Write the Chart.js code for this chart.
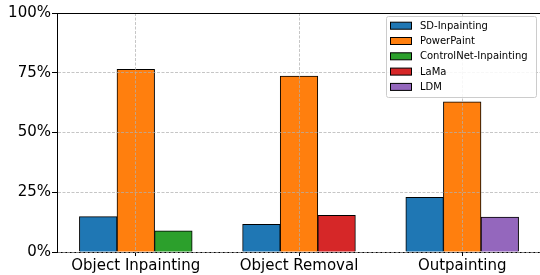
<!DOCTYPE html>
<html>
<head>
<meta charset="utf-8">
<script src="https://cdn.jsdelivr.net/npm/chart.js@4"></script>
<style>
  html, body { margin: 0; padding: 0; background: #fff; overflow: hidden; }
</style>
</head>
<body>
<canvas id="myChart" width="542" height="275"></canvas>
<script>
// categories and series (percent)
var categories = ["Object Inpainting", "Object Removal", "Outpainting"];
var seriesNames = ["SD-Inpainting", "PowerPaint", "ControlNet-Inpainting", "LaMa", "LDM"];
var sdInpainting = [14.8, 11.6, 22.9];
var powerPaint = [76.4, 73.6, 62.8];
var controlNet = [8.9, null, null];
var lama = [null, 15.3, null];
var ldm = [null, null, 14.6];
var yTicks = [0, 25, 50, 75, 100];

var colors = ["#1f77b4", "#ff7f0e", "#2ca02c", "#d62728", "#9467bd"];
var allValues = [sdInpainting, powerPaint, controlNet, lama, ldm];

var FONT = "'DejaVu Sans', sans-serif";

function toPoints(vals) {
  return vals.map(function (v, i) { return { x: i, y: v }; });
}

var datasets = seriesNames.map(function (name, k) {
  return {
    label: name,
    data: toPoints(allValues[k]),
    backgroundColor: colors[k],
    borderColor: "#000",
    borderWidth: 1,
    barThickness: 37.6
  };
});

// top/right spines like matplotlib
var frame = {
  id: "frame",
  afterDraw: function (chart) {
    var a = chart.chartArea, ctx = chart.ctx;
    ctx.save();
    ctx.strokeStyle = "#000";
    ctx.lineWidth = 1;
    ctx.beginPath();
    ctx.moveTo(a.left, a.top + 0.5);
    ctx.lineTo(a.right, a.top + 0.5);
    ctx.lineTo(a.right - 0.5, a.bottom);
    ctx.stroke();
    ctx.restore();
  }
};

// legend box inside the plot, upper right
var legendBox = {
  id: "legendBox",
  afterDraw: function (chart) {
    var ctx = chart.ctx;
    var x0 = 386.5, y0 = 16, w = 150, h = 81;
    ctx.save();
    ctx.fillStyle = "rgba(255,255,255,0.85)";
    ctx.strokeStyle = "#cccccc";
    ctx.lineWidth = 1;
    ctx.beginPath();
    ctx.roundRect(x0, y0 + 0.5, w, h, 2);
    ctx.fill();
    ctx.stroke();
    ctx.font = "10px " + FONT;
    ctx.textBaseline = "middle";
    chart.data.datasets.forEach(function (ds, i) {
      var cy = 25.7 + i * 15.3;
      ctx.fillStyle = ds.backgroundColor;
      ctx.fillRect(390.5, cy - 3.5, 21, 7);
      ctx.strokeStyle = "#000";
      ctx.strokeRect(390.5, cy - 3.5, 21, 7);
      ctx.fillStyle = "#000";
      ctx.fillText(ds.label, 420, cy + 0.5);
    });
    ctx.restore();
  }
};

var ctx = document.getElementById("myChart");
var chart = new Chart(ctx, {
  type: "bar",
  data: { datasets: datasets },
  plugins: [frame, legendBox],
  options: {
    responsive: false,
    animation: false,
    skipNull: true,
    layout: { padding: { top: 13, right: 0, left: 0, bottom: 0 } },
    plugins: {
      legend: { display: false },
      tooltip: { enabled: false }
    },
    scales: {
      x: {
        type: "linear",
        offset: false,
        min: -0.4828,
        max: 2.4889,
        afterBuildTicks: function (s) {
          s.ticks = categories.map(function (c, i) { return { value: i }; });
        },
        afterFit: function (s) { s.height = 23; },
        ticks: {
          callback: function (v) { return categories[v]; },
          color: "#000",
          font: { family: FONT, size: 15 },
          padding: 1,
          maxRotation: 0,
          autoSkip: false
        },
        grid: {
          offset: false,
          color: "rgba(176,176,176,0.9)",
          lineWidth: 0.8,
          tickLength: 4,
          tickColor: "#000",
          tickWidth: 1,
          tickBorderDash: [],
          z: 1
        },
        border: { display: true, color: "#000", width: 1, dash: [3, 1.5], z: 1 }
      },
      y: {
        min: 0,
        max: 100,
        afterBuildTicks: function (s) {
          s.ticks = yTicks.map(function (v) { return { value: v }; });
        },
        afterFit: function (s) { s.width = 57; },
        ticks: {
          callback: function (v) { return v + "%"; },
          color: "#000",
          font: { family: FONT, size: 15 },
          padding: 1
        },
        grid: {
          color: "rgba(176,176,176,0.9)",
          lineWidth: 0.8,
          tickLength: 5,
          tickColor: "#000",
          tickWidth: 1,
          tickBorderDash: [],
          z: 1
        },
        border: { display: true, color: "#000", width: 1, dash: [3, 1.5], z: 1 }
      }
    }
  }
});
</script>
</body>
</html>
